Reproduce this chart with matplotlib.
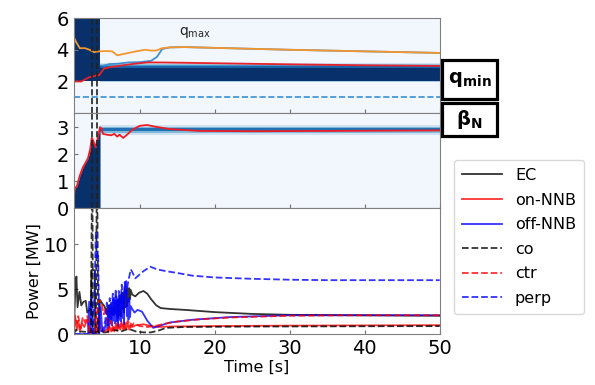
import matplotlib
matplotlib.use('Agg')
import matplotlib.pyplot as plt
from matplotlib.patches import Rectangle
import numpy as np

# ---- data ----
# top panel: safety factor
qmax = [(1.2, 4.8), (1.5, 4.5), (2.0, 4.1), (2.7, 4.1), (3.3, 4.0), (3.9, 3.85), (4.5, 3.9),
        (5.5, 3.92), (6.3, 3.9), (7.0, 3.65), (8.0, 3.75), (9.5, 3.9), (10.7, 4.0), (11.5, 3.95),
        (12.2, 3.95), (13.0, 4.1), (14, 4.15), (16, 4.17), (20, 4.12), (30, 4.0), (40, 3.9), (50, 3.8)]
q0 = [(5.2, 3.0), (6.0, 3.1), (7.0, 3.12), (8.5, 3.2), (10, 3.22), (11.5, 3.3), (12.3, 3.55),
      (13.0, 4.05), (14, 4.15), (16, 4.17), (20, 4.12), (30, 4.0), (40, 3.9), (50, 3.8)]
qmin = [(1.2, 2.0), (2.2, 2.0), (2.6, 2.1), (3.2, 2.25), (4.0, 2.35), (4.6, 2.4), (5.2, 2.8),
        (6.0, 2.9), (7.5, 3.0), (9, 3.1), (11, 3.2), (13, 3.2), (20, 3.15), (30, 3.08), (40, 3.02), (50, 2.98)]
qmin_target = 1.0

# target bands (heat map) in top panel
q_ramp_end = 4.7
q_early_band = (2.0, 6.0)
q_late_band = (2.0, 2.88)
q_late_edges = [2.88, 2.95, 3.02, 3.10, 3.17]
q_late_shades = [0.8, 0.6, 0.4, 0.2]

# middle panel: beta_N
betan = [(1.2, 0.4), (1.35, 0.75), (1.6, 0.8), (2.0, 1.2), (2.4, 1.5), (2.8, 1.7), (3.1, 1.85),
         (3.4, 2.2), (3.6, 2.6), (3.8, 2.5), (4.1, 2.25), (4.4, 2.6), (4.7, 3.0), (4.9, 2.95),
         (5.1, 2.75), (5.6, 2.72), (6.2, 2.7), (6.6, 2.75), (7.0, 2.65), (7.3, 2.72), (7.8, 2.6),
         (8.3, 2.72), (9.0, 2.9), (10, 3.05), (11, 3.08), (12, 3.02), (14, 2.93), (18, 2.86),
         (25, 2.85), (35, 2.86), (50, 2.88)]
bn_edges = [2.72, 2.78, 2.84, 2.96, 3.02, 3.08]
bn_shades = [0.2, 0.45, 0.75, 0.45, 0.2]

# event times (dashed markers)
t_events = [3.6, 4.25]

# bottom panel: powers [MW]
ec = [(1.2, 0.3), (1.4, 5.0), (1.55, 6.4), (1.7, 3.0), (1.95, 4.7), (2.2, 3.2), (2.5, 3.6), (2.8, 3.7),
      (3.0, 2.4), (3.3, 2.7), (3.5, 3.0), (3.55, 7.1), (4.0, 7.1), (4.05, 0.3), (4.5, 0.3), (4.7, 3.8),
      (5.0, 3.4), (5.3, 3.1), (5.6, 2.3), (5.8, 3.2), (6.0, 1.9), (6.2, 3.0), (6.4, 2.1), (6.6, 3.4),
      (6.8, 2.3), (7.0, 3.8), (7.1, 1.8), (7.2, 3.9), (7.3, 2.1), (7.4, 4.2), (7.5, 2.0), (7.6, 4.4),
      (7.7, 2.8), (7.8, 4.6), (7.9, 2.4), (8.0, 4.8), (8.1, 3.0), (8.2, 5.0), (8.3, 3.1), (8.4, 5.1),
      (8.5, 3.6), (8.6, 5.1), (8.7, 3.9), (8.8, 4.9), (9.0, 4.4), (9.4, 4.2), (9.9, 4.6), (10.5, 4.8),
      (11.0, 4.5), (11.5, 3.9), (12.2, 3.2), (12.8, 2.9), (14, 2.8), (16, 2.7), (20, 2.45), (25, 2.25),
      (30, 2.15), (40, 2.1), (50, 2.05)]
on_nnb = [(1.2, 0.3), (1.4, 1.8), (1.6, 0.5), (1.8, 1.5), (2.0, 0.4), (2.3, 1.2), (2.6, 0.8), (3.0, 1.6),
          (3.3, 0.2), (3.6, 0.1), (4.2, 0.1), (4.5, 2.0), (4.8, 0.4), (5.2, 0.3), (5.6, 0.5), (5.8, 0.2),
          (6.0, 0.8), (6.2, 0.3), (6.4, 0.9), (6.6, 0.3), (6.8, 1.0), (7.0, 0.4), (7.2, 1.1), (7.4, 0.5),
          (7.6, 1.2), (7.8, 0.5), (8.0, 1.3), (8.2, 0.6), (8.4, 1.2), (8.6, 0.5), (8.8, 1.2), (9.0, 0.8),
          (9.5, 1.0), (10.5, 1.1), (11.5, 0.9), (12.5, 0.8), (14, 0.85), (20, 0.9), (30, 0.95), (50, 1.0)]
off_nnb = [(1.2, 0), (3.1, 0), (3.25, 3.6), (3.4, 0.2), (3.55, 4.3), (3.7, 0.1), (4.0, 0), (4.6, 0),
           (4.8, 3.0), (5.0, 0.3), (5.3, 0.5), (5.6, 1.8), (5.7, 0.6), (5.8, 2.6), (5.9, 0.8), (6.0, 3.2),
           (6.1, 1.2), (6.2, 3.5), (6.3, 1.0), (6.4, 3.8), (6.5, 1.5), (6.6, 4.0), (6.7, 1.2), (6.8, 4.2),
           (6.9, 1.4), (7.0, 3.9), (7.1, 0.9), (7.2, 3.6), (7.3, 1.6), (7.4, 4.3), (7.5, 1.4), (7.6, 4.6),
           (7.7, 1.8), (7.8, 4.1), (7.9, 1.1), (8.0, 5.2), (8.2, 5.9), (8.3, 2.0), (8.4, 3.8), (8.5, 1.6),
           (8.6, 4.0), (8.7, 1.9), (8.8, 3.1), (9.0, 2.8), (9.3, 2.4), (9.7, 2.7), (10.3, 2.5),
           (11, 1.5), (11.8, 0.7), (12.5, 0.9), (14, 1.3), (17, 1.6), (22, 1.9), (30, 2.1), (40, 2.1), (50, 2.1)]
co = [(1.2, 0), (1.5, 0.5), (1.8, 0.2), (2.2, 0.3), (3.5, 0.2), (3.6, 14.5), (3.7, 14.5), (3.75, 0.2),
      (4.15, 0.2), (4.25, 14.5), (4.35, 14.5), (4.45, 0.2), (5.5, 0.2), (6.5, 0.5), (7.5, 0.3), (8.5, 0.6),
      (9.5, 0.3), (10.5, 0.2), (11.5, 0.2), (12.5, 0.4), (13.5, 0.7), (16, 0.8), (25, 0.85), (50, 0.9)]
ctr = [(1.2, 0.5), (1.35, 2.1), (1.6, 1.2), (1.8, 2.0), (2.1, 0.6), (2.4, 1.9), (2.7, 1.3), (3.0, 2.0),
       (3.3, 0.3), (3.9, 0.3), (4.3, 2.5), (4.6, 3.8), (4.9, 3.5), (5.2, 2.2), (5.5, 3.0), (5.8, 0.5),
       (6.1, 1.5), (6.4, 0.4), (6.8, 1.2), (7.2, 0.5), (7.6, 1.4), (8.0, 0.6), (8.4, 1.5), (8.8, 0.8),
       (9.2, 1.2), (10, 0.9), (11, 0.8), (12, 0.9), (13, 1.1), (15, 1.4), (18, 1.65), (22, 1.85),
       (30, 2.05), (40, 2.1), (50, 2.1)]
perp = [(1.2, 0), (3.8, 0), (4.0, 6), (4.15, 11.5), (4.3, 8.5), (4.45, 8.8), (4.6, 0.5), (5.0, 0.3),
        (5.4, 1.5), (5.6, 3.5), (5.8, 1.0), (6.0, 4.0), (6.2, 1.5), (6.4, 4.5), (6.6, 2.0), (6.8, 5.0),
        (7.0, 1.5), (7.2, 4.8), (7.4, 2.5), (7.6, 5.5), (7.8, 3.0), (8.0, 5.8), (8.2, 4.5), (8.5, 6.0),
        (8.8, 7.2), (9.0, 6.9), (9.4, 6.2), (9.8, 6.5), (10.5, 7.0), (11.4, 7.5), (12.3, 7.2), (13.5, 7.0),
        (15, 6.8), (17, 6.5), (20, 6.3), (25, 6.15), (30, 6.05), (35, 6.0), (50, 6.0)]

t_min, t_max = 1.2, 50

# ---- figure ----
plt.rcParams['font.family'] = 'DejaVu Sans'
fig = plt.figure(figsize=(5.95, 3.85), dpi=100)
gs = fig.add_gridspec(3, 1, height_ratios=[95, 95, 126], hspace=0,
                      left=0.124, right=0.739, bottom=0.132, top=0.953)
ax1 = fig.add_subplot(gs[0])
ax2 = fig.add_subplot(gs[1], sharex=ax1)
ax3 = fig.add_subplot(gs[2], sharex=ax1)

blues = plt.cm.Blues
dark = blues(1.0)

def xy(pairs):
    a = np.array(pairs, dtype=float)
    return a[:, 0], a[:, 1]

# top panel
ax1.set_facecolor(blues(0.03))
ax1.fill_between([t_min, q_ramp_end], *q_early_band, color=dark, lw=0)
ax1.fill_between([q_ramp_end, t_max], *q_late_band, color=dark, lw=0)
for lo, hi, s in zip(q_late_edges[:-1], q_late_edges[1:], q_late_shades):
    ax1.fill_between([q_ramp_end, t_max], lo, hi, color=blues(s), lw=0)
ax1.fill_between([q_ramp_end, t_max], 1.94, 2.0, color=blues(0.35), lw=0)
ax1.axhline(qmin_target, color='#3a8fd3', ls='--', lw=1.2)
t, v = xy(q0)
ax1.plot(t, v, color='#3d8fd1', lw=1.3)
t, v = xy(qmax)
ax1.plot(t, v, color='#f5962d', lw=1.3)
t, v = xy(qmin)
ax1.plot(t, v, color='#e8202a', lw=1.3)
ax1.text(17.3, 5.1, r'q$_{\rm max}$', fontsize=10, ha='center', va='center', color='#222222')
ax1.set_ylim(0, 6)
ax1.set_yticks([2, 4, 6])

# middle panel
ax2.set_facecolor(blues(0.03))
for lo, hi, s in zip(bn_edges[:-1], bn_edges[1:], bn_shades):
    ax2.fill_between([q_ramp_end, t_max], lo, hi, color=blues(s), lw=0)
t, v = xy(betan)
early = t <= q_ramp_end
ax2.fill_between(t[early], 0, v[early], color=dark, lw=0)
ax2.plot(t, v, color='#ee1c25', lw=1.3)
ax2.set_ylim(0, 3.52)
ax2.set_yticks([0, 1, 2, 3])

for ax in (ax1, ax2):
    for te in t_events:
        ax.axvline(te, color='#222222', ls='--', lw=1.2)

# bottom panel
series = [(ec, 'k', '-', 'EC'), (on_nnb, 'r', '-', 'on-NNB'), (off_nnb, 'b', '-', 'off-NNB'),
          (co, 'k', '--', 'co'), (ctr, 'r', '--', 'ctr'), (perp, 'b', '--', 'perp')]
handles = []
for data, c, ls, lab in series:
    t, v = xy(data)
    h, = ax3.plot(t, v, color=c, ls=ls, lw=1.3, alpha=0.8, label=lab)
    handles.append(h)
ax3.set_ylim(0, 14)
ax3.set_yticks([0, 5, 10])
ax3.set_xlim(t_min, t_max)
ax3.set_xticks([10, 20, 30, 40, 50])
ax3.set_xlabel('Time [s]', fontsize=11.5, labelpad=1)
ax3.set_ylabel('Power [MW]', fontsize=11.5, labelpad=2)

for ax in (ax1, ax2, ax3):
    ax.tick_params(direction='in', labelsize=14, color='0.45', length=3)
    for sp in ax.spines.values():
        sp.set_color('0.5')
for ax in (ax1, ax2):
    ax.tick_params(labelbottom=False)

# labelled boxes at the right
for (x0, y0, w, h), lab in [((0.743, 0.743, 0.092, 0.101), r'$\mathbf{q_{min}}$'),
                            ((0.743, 0.647, 0.092, 0.086), r'$\mathbf{\beta_{N}}$')]:
    fig.patches.append(Rectangle((x0, y0), w, h, transform=fig.transFigure,
                                 fill=False, edgecolor='k', lw=2.3))
    fig.text(x0 + w / 2, y0 + h / 2, lab, fontsize=14, ha='center', va='center')

fig.legend(handles=handles, loc='upper left', bbox_to_anchor=(0.75, 0.605),
           fontsize=11.5, handlelength=2.5, framealpha=1, edgecolor='0.85',
           borderpad=0.5, labelspacing=0.6)

fig.savefig('out.png', dpi=100)
